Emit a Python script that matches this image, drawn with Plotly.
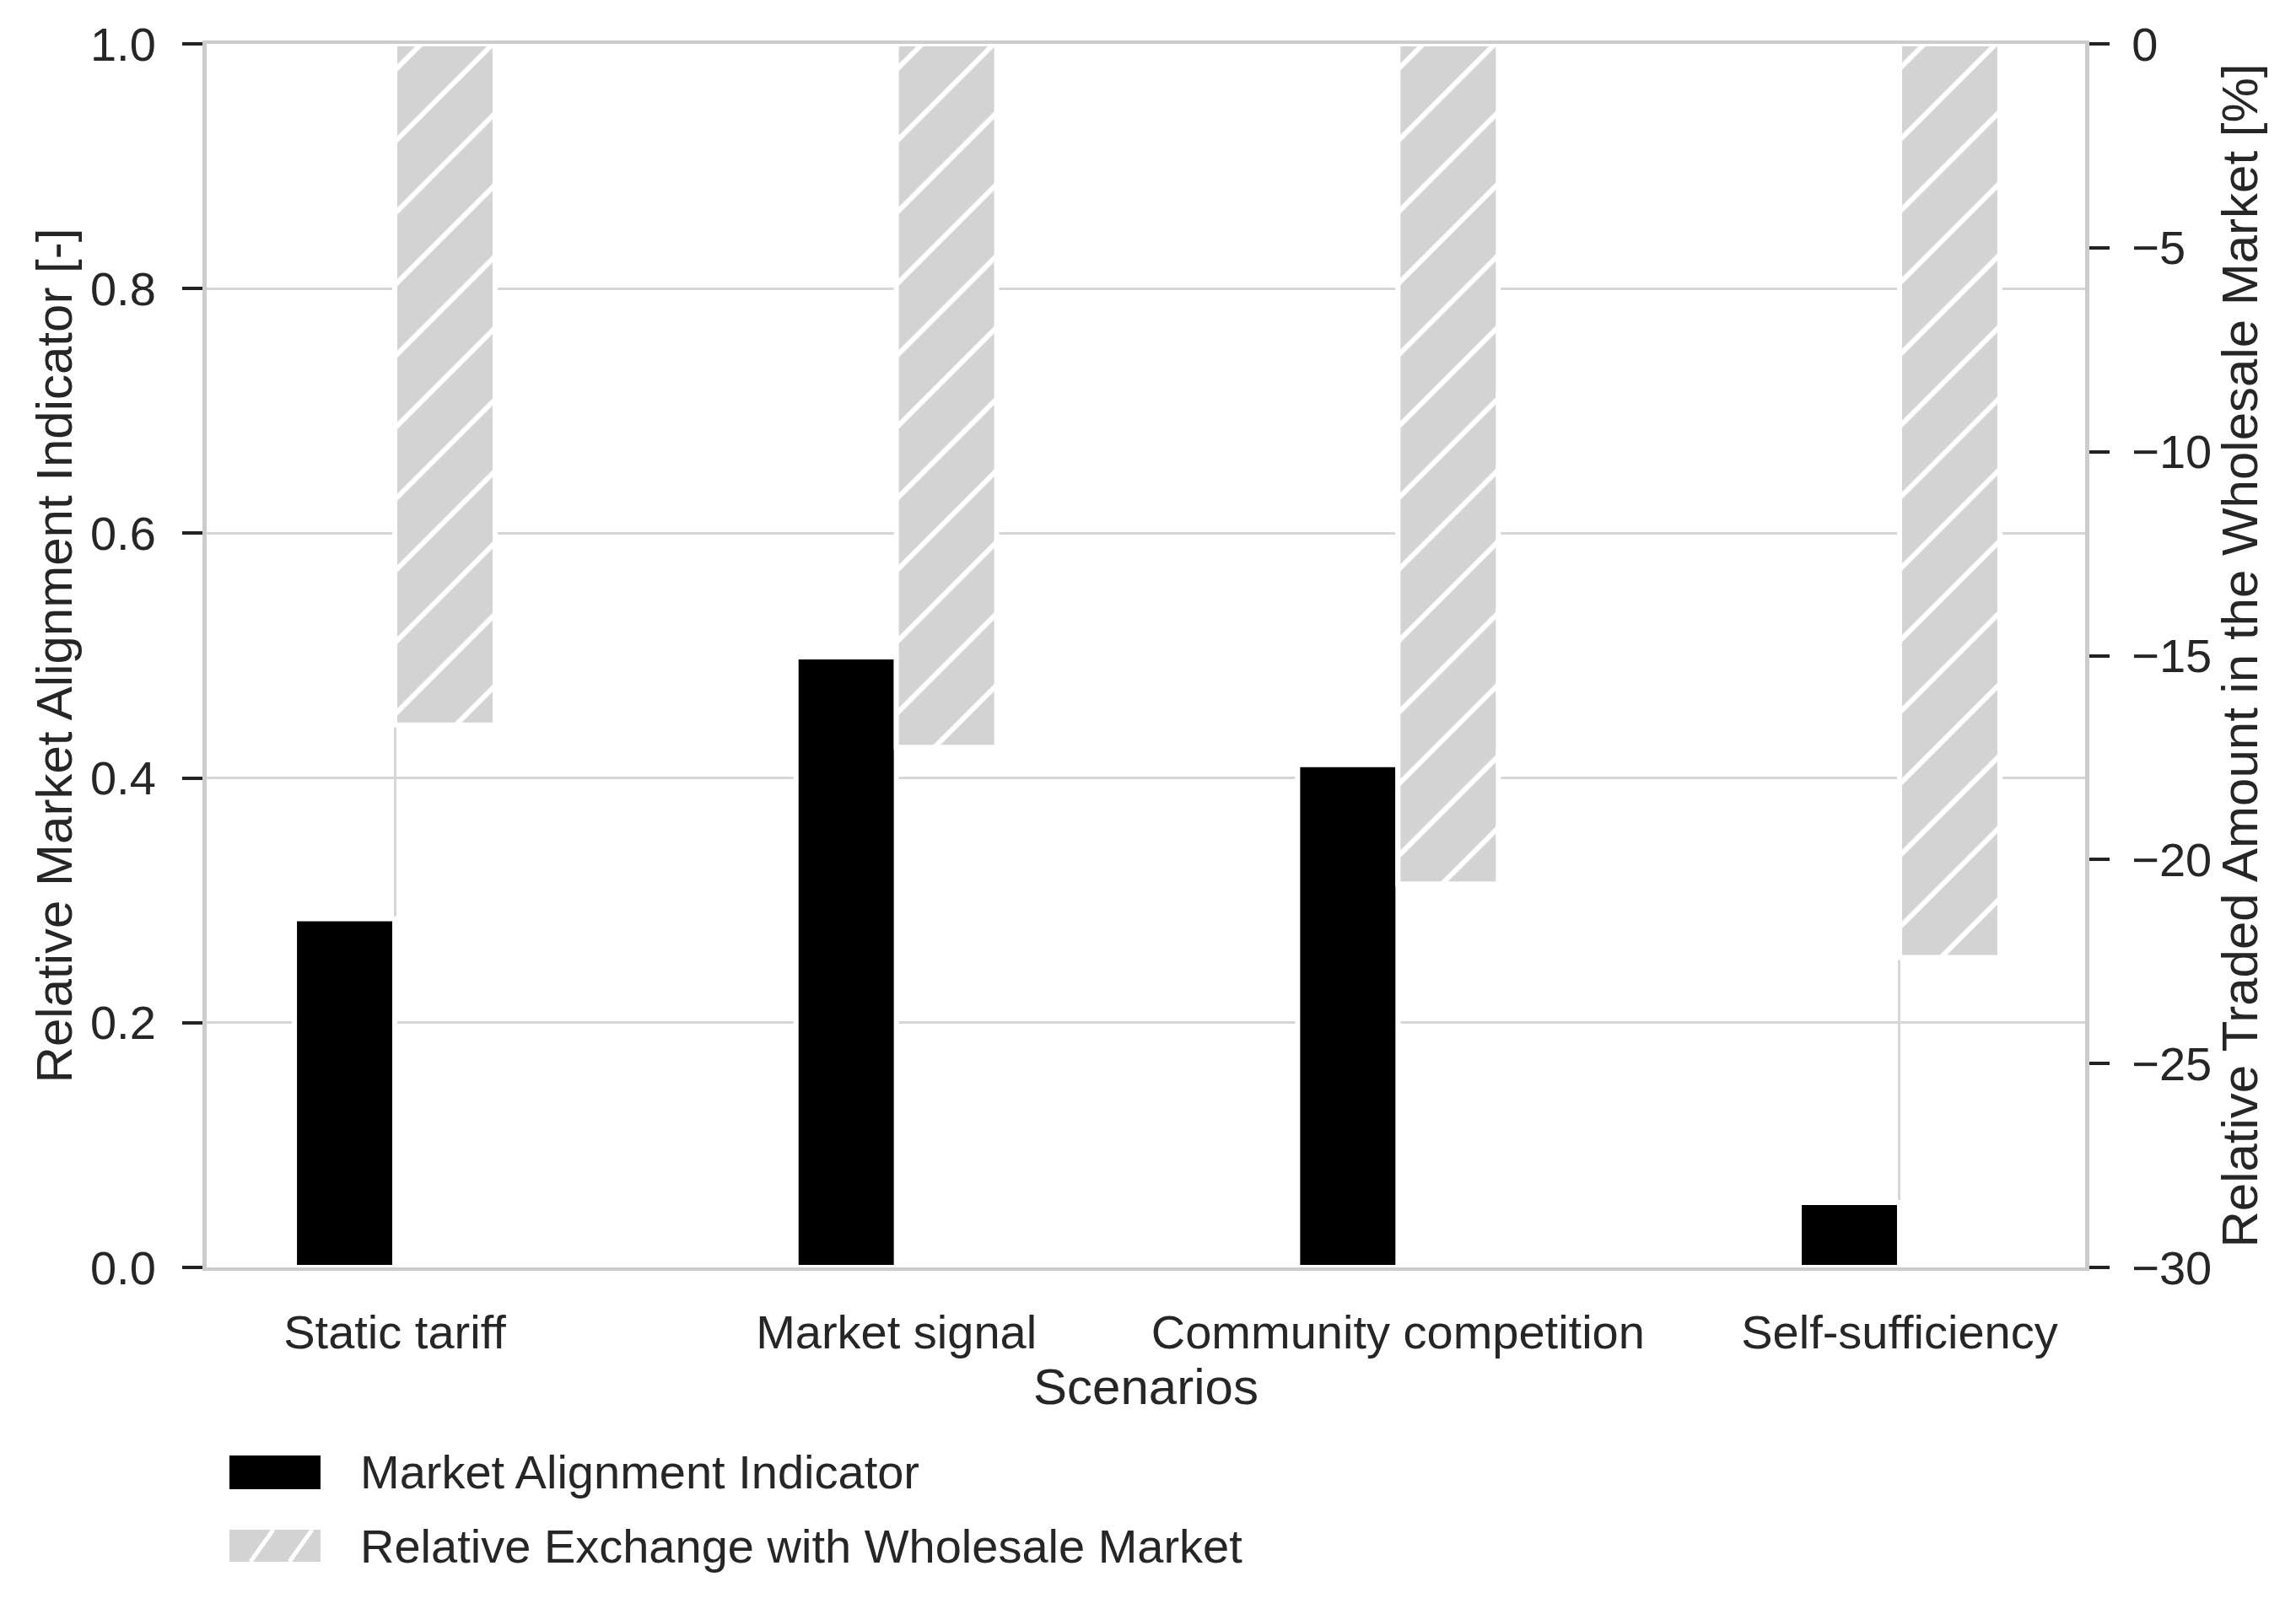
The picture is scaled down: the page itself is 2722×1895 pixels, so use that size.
import plotly.graph_objects as go

scenarios = ["Static tariff", "Market signal", "Community competition", "Self-sufficiency"]
alignment = [0.285, 0.499, 0.411, 0.053]
exchange = [-16.7, -17.25, -20.6, -22.4]
legend_labels = ["Market Alignment Indicator", "Relative Exchange with Wholesale Market"]

FONT = "Liberation Sans, Arial, sans-serif"
TXT = "#262626"
SPINE = "#cccccc"
GRID = "#d6d6d6"
HATCH_BG = "#d3d3d3"

W, H = 2722, 1895
OFF = 8  # default page body margin
ML, MT = 245 - OFF, 52 - OFF
PW, PH = 2227, 1451
MR = W - ML - PW
MB = H - MT - PH


def px(xs):
    # screen pixel -> paper x
    return (xs - OFF - ML) / PW


def py(ys):
    # screen pixel -> paper y
    return (MT + PH - (ys - OFF)) / PH


fig = go.Figure()
fig.add_trace(go.Bar(
    x=scenarios, y=alignment, name=legend_labels[0],
    marker=dict(color="black", line=dict(color="white", width=6)),
    width=0.2, offset=-0.2, yaxis="y", showlegend=False,
))
fig.add_trace(go.Bar(
    x=scenarios, y=exchange, name=legend_labels[1],
    marker=dict(color=HATCH_BG, line=dict(color="white", width=6),
                pattern=dict(shape="/", fgcolor="white", bgcolor=HATCH_BG,
                             size=60, solidity=0.1, fillmode="replace")),
    width=0.2, offset=0.0, yaxis="y2", showlegend=False,
))

# manual legend (larger patches, like the reference)
shapes = [
    dict(type="rect", xref="paper", yref="paper",
         x0=px(272), x1=px(380), y0=py(1766), y1=py(1726),
         fillcolor="black", line=dict(width=0)),
    dict(type="rect", xref="paper", yref="paper",
         x0=px(272), x1=px(380), y0=py(1852), y1=py(1814),
         fillcolor=HATCH_BG, line=dict(width=0)),
]
for xa, xb in [(297, 324), (343, 370)]:
    shapes.append(dict(type="line", xref="paper", yref="paper",
                       x0=px(xa), y0=py(1852), x1=px(xb), y1=py(1814),
                       line=dict(color="white", width=5)))
annotations = [
    dict(text=legend_labels[0], xref="paper", yref="paper", x=px(425), y=py(1745),
         xanchor="left", yanchor="middle", showarrow=False,
         font=dict(size=56, color=TXT, family=FONT)),
    dict(text=legend_labels[1], xref="paper", yref="paper", x=px(425), y=py(1833),
         xanchor="left", yanchor="middle", showarrow=False,
         font=dict(size=56, color=TXT, family=FONT)),
]

fig.update_layout(
    width=W, height=H,
    margin=dict(l=ML, r=MR, t=MT, b=MB, autoexpand=False),
    paper_bgcolor="white", plot_bgcolor="white",
    font=dict(family=FONT, size=56, color=TXT),
    barmode="overlay",
    showlegend=False,
    shapes=shapes,
    annotations=annotations,
    xaxis=dict(
        type="category", range=[-0.375, 3.37], automargin=False,
        showgrid=True, gridcolor=GRID, gridwidth=3,
        showline=True, linecolor=SPINE, linewidth=4, mirror=True,
        ticks="", ticklabelstandoff=25,
        tickfont=dict(size=56, color=TXT),
        title=dict(text="Scenarios", font=dict(size=60, color=TXT), standoff=8),
    ),
    yaxis=dict(
        range=[0, 1], dtick=0.2, tickformat=".1f", automargin=False,
        showgrid=True, gridcolor=GRID, gridwidth=3, zeroline=False,
        showline=True, linecolor=SPINE, linewidth=5,
        ticks="outside", ticklen=24, tickwidth=4, tickcolor="#222222",
        ticklabelstandoff=20,
        tickfont=dict(size=56, color=TXT),
        title=dict(text="Relative Market Alignment Indicator [-]",
                   font=dict(size=60, color=TXT), standoff=3),
    ),
    yaxis2=dict(
        range=[-30, 0], dtick=5, overlaying="y", side="right", automargin=False,
        showgrid=False, zeroline=False,
        showline=True, linecolor=SPINE, linewidth=5,
        ticks="outside", ticklen=24, tickwidth=4, tickcolor="#222222",
        ticklabelstandoff=15,
        tickfont=dict(size=56, color=TXT),
        title=dict(text="Relative Traded Amount in the Wholesale Market [%]",
                   font=dict(size=60, color=TXT), standoff=10),
    ),
)

fig.write_html("out.html")
